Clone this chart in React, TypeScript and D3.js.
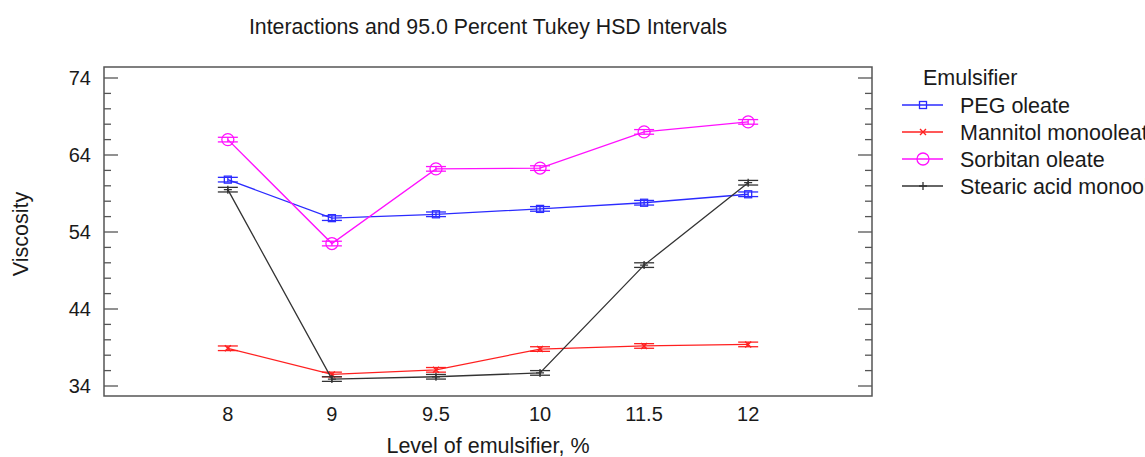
import React from "react";
import * as d3 from "d3";

// Emulsifier levels (%) along the x axis
const levels = ["8", "9", "9.5", "10", "11.5", "12"];

// Mean viscosity for each emulsifier at each level
const pegOleate = [60.8, 55.8, 56.3, 57.0, 57.8, 58.9];
const mannitolMonooleate = [38.9, 35.5, 36.1, 38.8, 39.2, 39.4];
const sorbitanOleate = [66.0, 52.5, 62.2, 62.3, 67.0, 68.3];
const stearicAcid = [59.5, 34.9, 35.2, 35.7, 49.7, 60.4];

// Half-width of the 95% Tukey HSD interval
const hsdHalfWidth = 0.3;

const yMajorTicks = [34, 44, 54, 64, 74];
const yMinorTicks = d3.range(34, 75, 2);

type Series = {
  name: string;
  values: number[];
  color: string;
  marker: "square" | "x" | "circle" | "plus";
};

const series: Series[] = [
  { name: "PEG oleate", values: pegOleate, color: "#2b2bff", marker: "square" },
  { name: "Mannitol monooleate", values: mannitolMonooleate, color: "#ff2020", marker: "x" },
  { name: "Sorbitan oleate", values: sorbitanOleate, color: "#ff10ff", marker: "circle" },
  { name: "Stearic acid monooleate", values: stearicAcid, color: "#333333", marker: "plus" },
];

const W = 1145;
const H = 457;
const plot = { left: 104, right: 872, top: 67, bottom: 396 };
const FONT = "'Liberation Sans', Arial, sans-serif";

function Marker({ kind, x, y, color }: { kind: Series["marker"]; x: number; y: number; color: string }) {
  if (kind === "square") {
    return <rect x={x - 3.5} y={y - 3.5} width={7} height={7} fill="none" stroke={color} strokeWidth={1.3} />;
  }
  if (kind === "circle") {
    return <circle cx={x} cy={y} r={6} fill="none" stroke={color} strokeWidth={1.3} />;
  }
  if (kind === "x") {
    return (
      <path d={`M${x - 3},${y - 3}L${x + 3},${y + 3}M${x - 3},${y + 3}L${x + 3},${y - 3}`} stroke={color} strokeWidth={1.4} />
    );
  }
  return <path d={`M${x - 4},${y}L${x + 4},${y}M${x},${y - 4}L${x},${y + 4}`} stroke={color} strokeWidth={1.3} />;
}

export default function App() {
  const x = d3.scalePoint<string>().domain(levels).range([plot.left, plot.right]).padding(1.19);
  const y = d3.scaleLinear().domain([34, 74]).range([386, 78]);
  const line = d3
    .line<number>()
    .x((_, i) => x(levels[i]) as number)
    .y((d) => y(d));

  const legendX = 902;
  const legendYs = [105, 132, 159, 186];

  return (
    <svg
      width={W}
      height={H}
      style={{ position: "absolute", left: 0, top: 0, background: "#fff" }}
      fontFamily={FONT}
    >
      <text x={488} y={34} textAnchor="middle" fontSize={21.3} fill="#1a1a1a">
        Interactions and 95.0 Percent Tukey HSD Intervals
      </text>

      {/* plot frame */}
      <rect
        x={plot.left}
        y={plot.top}
        width={plot.right - plot.left}
        height={plot.bottom - plot.top}
        fill="none"
        stroke="#555"
        strokeWidth={1.5}
      />

      {/* y ticks on both sides, pointing inward */}
      {yMinorTicks.map((t) => {
        const major = yMajorTicks.includes(t);
        const len = major ? 14 : 7;
        return (
          <g key={t} stroke="#555" strokeWidth={1.3}>
            <line x1={plot.left} x2={plot.left + len} y1={y(t)} y2={y(t)} />
            <line x1={plot.right} x2={plot.right - len} y1={y(t)} y2={y(t)} />
          </g>
        );
      })}
      {yMajorTicks.map((t) => (
        <text key={t} x={91} y={y(t) + 7} textAnchor="end" fontSize={20} fill="#1a1a1a">
          {t}
        </text>
      ))}
      {levels.map((l) => (
        <text key={l} x={x(l)} y={421} textAnchor="middle" fontSize={20} fill="#1a1a1a">
          {l}
        </text>
      ))}

      <text x={488} y={453} textAnchor="middle" fontSize={21.5} fill="#1a1a1a">
        Level of emulsifier, %
      </text>
      <text transform="translate(28,234) rotate(-90)" textAnchor="middle" fontSize={21.5} fill="#1a1a1a">
        Viscosity
      </text>

      {/* series lines, intervals and markers */}
      {series.map((s) => (
        <g key={s.name}>
          <path d={line(s.values) ?? ""} fill="none" stroke={s.color} strokeWidth={1.3} />
          {s.values.map((v, i) => {
            const cx = x(levels[i]) as number;
            const lo = y(v - hsdHalfWidth);
            const hi = y(v + hsdHalfWidth);
            return (
              <g key={i}>
                <line x1={cx} x2={cx} y1={lo} y2={hi} stroke={s.color} strokeWidth={1.3} />
                <line x1={cx - 10} x2={cx + 10} y1={lo} y2={lo} stroke={s.color} strokeWidth={1.3} />
                <line x1={cx - 10} x2={cx + 10} y1={hi} y2={hi} stroke={s.color} strokeWidth={1.3} />
                <Marker kind={s.marker} x={cx} y={y(v)} color={s.color} />
              </g>
            );
          })}
        </g>
      ))}

      {/* legend */}
      <text x={923} y={85} fontSize={21.5} fill="#1a1a1a">
        Emulsifier
      </text>
      {series.map((s, i) => (
        <g key={s.name}>
          <line x1={legendX} x2={legendX + 41} y1={legendYs[i]} y2={legendYs[i]} stroke={s.color} strokeWidth={1.4} />
          <Marker kind={s.marker} x={legendX + 21} y={legendYs[i]} color={s.color} />
          <text x={960} y={legendYs[i] + 7.5} fontSize={21.5} fill="#1a1a1a">
            {s.name}
          </text>
        </g>
      ))}
    </svg>
  );
}
